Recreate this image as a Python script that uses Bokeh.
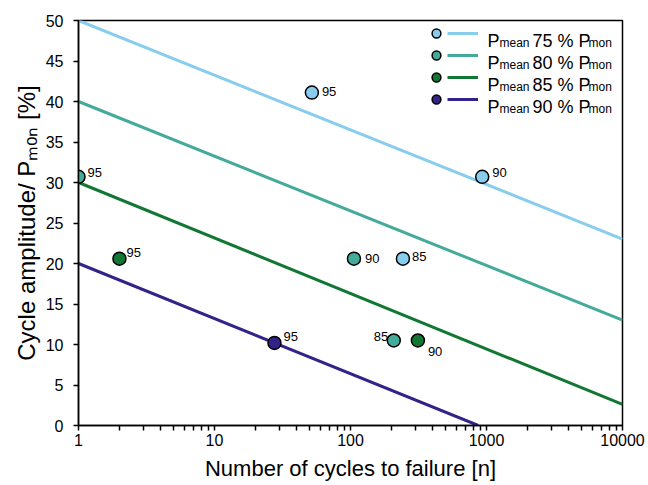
import math
from bokeh.plotting import figure
from bokeh.models import (Range1d, FixedTicker, NumeralTickFormatter, Label,
                          Legend, LegendItem, ColumnDataSource)
from bokeh.core.properties import value
from bokeh.embed import file_html
from bokeh.resources import INLINE

FONT = "Liberation Sans"

# ---------------- data ----------------
series = ["75", "80", "85", "90"]
colors = ["#88CCEE", "#44AA99", "#117733", "#332288"]

# regression lines (end points)
line_75_x = [1, 10000]
line_75_y = [50, 23]
line_80_x = [1, 10000]
line_80_y = [40, 13]
line_85_x = [1, 10000]
line_85_y = [30, 2.6]
line_90_x = [1, 870]
line_90_y = [20, 0]

# test points (cycles to failure, amplitude) and their labels
pts_75_x = [52, 930, 243]
pts_75_y = [41.1, 30.7, 20.6]
pts_75_lab = ["95", "90", "85"]
pts_80_x = [1, 106, 208]
pts_80_y = [30.7, 20.6, 10.5]
pts_80_lab = ["95", "90", "85"]
pts_85_x = [2, 313]
pts_85_y = [20.6, 10.5]
pts_85_lab = ["95", "90"]
pts_90_x = [27.6]
pts_90_y = [10.2]
pts_90_lab = ["95"]

x_ticks = [1, 10, 100, 1000, 10000]
y_ticks = [0, 5, 10, 15, 20, 25, 30, 35, 40, 45, 50]

x_title = "Number of cycles to failure [n]"
y_title = "Cycle amplitude/ P\u2098\u2092\u2099 [%]"

# label placement (screen px offsets, styling only)
lab_dx = {"75": [10, 10, 9], "80": [9, 11, -20], "85": [7, 10], "90": [9]}
lab_dy = {"75": [-1, -4, -2], "80": [-4, 0, -4], "85": [-6, 11], "90": [-6]}

lines = {"75": (line_75_x, line_75_y), "80": (line_80_x, line_80_y),
         "85": (line_85_x, line_85_y), "90": (line_90_x, line_90_y)}
pts = {"75": (pts_75_x, pts_75_y, pts_75_lab), "80": (pts_80_x, pts_80_y, pts_80_lab),
       "85": (pts_85_x, pts_85_y, pts_85_lab), "90": (pts_90_x, pts_90_y, pts_90_lab)}

# ---------------- figure ----------------
p = figure(width=648, height=485, x_axis_type="log",
           x_range=Range1d(1, 10000), y_range=Range1d(0, 50),
           output_backend="svg", toolbar_location=None,
           min_border_left=78, min_border_right=26,
           min_border_top=20, min_border_bottom=60)
p.xgrid.visible = False
p.ygrid.visible = False
p.outline_line_color = "black"
p.outline_line_width = 1.5
p.background_fill_color = "white"
p.border_fill_color = "white"

minor = [m * 10 ** k for k in range(4) for m in range(2, 10)]
p.xaxis.ticker = FixedTicker(ticks=x_ticks, minor_ticks=minor)
p.xaxis.formatter = NumeralTickFormatter(format="0")
p.yaxis.ticker = FixedTicker(ticks=y_ticks, minor_ticks=[])

for ax in (p.xaxis, p.yaxis):
    ax.axis_line_color = "black"
    ax.axis_line_width = 1.5
    ax.major_tick_line_color = "black"
    ax.major_tick_line_width = 1.5
    ax.minor_tick_line_color = "black"
    ax.minor_tick_line_width = 1.5
    ax.major_tick_in = 0
    ax.major_tick_out = 5
    ax.minor_tick_in = 0
    ax.minor_tick_out = 5
    ax.major_label_text_font = FONT
    ax.major_label_text_font_size = "16px"
    ax.major_label_text_color = "black"
    ax.axis_label_text_font = FONT
    ax.axis_label_text_font_style = "normal"
    ax.axis_label_text_color = "black"
p.xaxis.major_label_standoff = 3
p.yaxis.major_label_standoff = 10
p.xaxis.axis_label = x_title
p.xaxis.axis_label_text_font_size = "22px"
p.xaxis.axis_label_standoff = 7
p.yaxis.axis_label = y_title
p.yaxis.axis_label_text_font_size = "24px"
p.yaxis.axis_label_standoff = 3

line_r = {}
pt_r = {}
for s, c in zip(series, colors):
    lx, ly = lines[s]
    line_r[s] = p.line(lx, ly, line_color=c, line_width=3)

for s, c in zip(series, colors):
    xs, ys, labs = pts[s]
    src = ColumnDataSource(dict(x=xs, y=ys, t=labs, dx=lab_dx[s], dy=lab_dy[s]))
    pt_r[s] = p.scatter("x", "y", source=src, size=13, fill_color=c,
                        line_color="black", line_width=1.5)
    p.text("x", "y", text="t", source=src, x_offset="dx", y_offset="dy",
           text_font=value(FONT), text_font_size="13px", text_color="black",
           text_align="left", text_baseline="alphabetic")

# ---------------- legend ----------------
common = dict(orientation="vertical", glyph_height=22, spacing=0, padding=0,
              margin=0, label_width=0, label_standoff=0, label_height=22,
              label_text_font_size="6px", border_line_alpha=0,
              background_fill_alpha=0)
legA = Legend(items=[LegendItem(label=value(" "), renderers=[pt_r[s]]) for s in series],
              location=(346, 315), glyph_width=24, **common)
legB = Legend(items=[LegendItem(label=value(" "), renderers=[line_r[s]]) for s in series],
              location=(369, 315), glyph_width=31, **common)
p.add_layout(legA)
p.add_layout(legB)

FL, FB = 78, 425  # page position of frame left / bottom
def lab(text, px, py, size, **kw):
    p.add_layout(Label(x=px - FL, y=FB - py, x_units="screen", y_units="screen",
                       text=text, text_font=FONT, text_font_size=size,
                       text_color="black", text_baseline="alphabetic", **kw))

for i, s in enumerate(series):
    base = 33 + 22 * i + 7
    lab("P", 487, base, "18px")
    lab("mean", 499, base + 2.5, "12px")
    lab("%s %% P" % s, 532, base, "18px")
    lab("mon", 588, base + 2.5, "12px")

open("out.html", "w").write(file_html(p, INLINE))
